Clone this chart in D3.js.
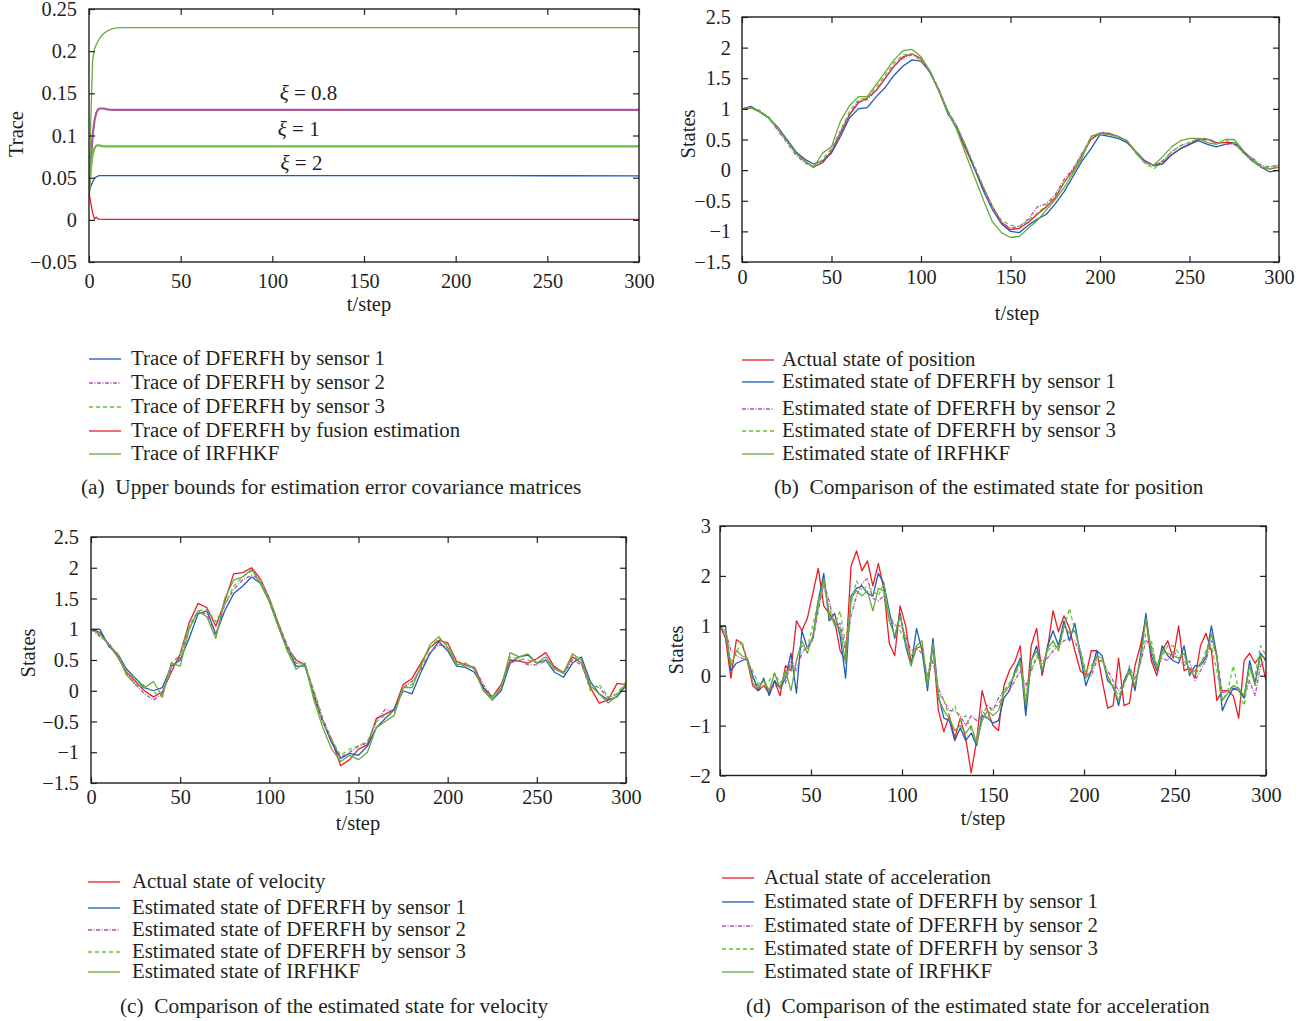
<!DOCTYPE html>
<html>
<head>
<meta charset="utf-8">
<script src="https://cdn.jsdelivr.net/npm/d3@7"></script>
<style>
  body { margin: 0; background: #fff; }
  svg text { font-family: "Liberation Serif", "DejaVu Serif", serif; font-size: 20px; fill: #231f20; }
</style>
</head>
<body>
<svg id="chart" width="1312" height="1021"></svg>
<script>
// ---- data ----
var stepTicks = [0, 50, 100, 150, 200, 250, 300];
var stepTickLabels = ["0", "50", "100", "150", "200", "250", "300"];

var traceTicks = [-0.05, 0, 0.05, 0.1, 0.15, 0.2, 0.25];
var traceTickLabels = ["\u22120.05", "0", "0.05", "0.1", "0.15", "0.2", "0.25"];
var stateTicks = [-1.5, -1, -0.5, 0, 0.5, 1, 1.5, 2, 2.5];
var stateTickLabels = ["\u22121.5", "\u22121", "\u22120.5", "0", "0.5", "1", "1.5", "2", "2.5"];
var accTicks = [-2, -1, 0, 1, 2, 3];
var accTickLabels = ["\u22122", "\u22121", "0", "1", "2", "3"];

// (a) traces
var traceSteps = [0, 1, 2, 3, 4, 5, 6, 8, 10, 12, 15, 20, 25, 30, 50, 100, 150, 200, 250, 300];
var traceSensor1 = [0.032, 0.040, 0.045, 0.049, 0.051, 0.052, 0.0525, 0.0525, 0.0525, 0.0525, 0.0525, 0.0525, 0.0525, 0.0525, 0.0525, 0.0525, 0.0525, 0.0525, 0.0523, 0.0522];
var traceSensor2 = [0.032, 0.070, 0.100, 0.118, 0.127, 0.131, 0.132, 0.132, 0.131, 0.1305, 0.1305, 0.1305, 0.1305, 0.1305, 0.1305, 0.1305, 0.1305, 0.1305, 0.1305, 0.1305];
var traceSensor3 = [0.032, 0.060, 0.078, 0.085, 0.088, 0.0885, 0.088, 0.087, 0.087, 0.087, 0.087, 0.087, 0.087, 0.087, 0.087, 0.087, 0.087, 0.087, 0.087, 0.087];
var traceFusion = [0.032, 0.020, 0.008, 0.001, 0.003, 0.001, 0.0008, 0.0005, 0.0005, 0.0005, 0.0005, 0.0005, 0.0005, 0.0005, 0.0005, 0.0005, 0.0005, 0.0005, 0.0005, 0.0005];
var traceIrfhkf = [0.032, 0.120, 0.190, 0.203, 0.208, 0.212, 0.216, 0.221, 0.224, 0.226, 0.2275, 0.228, 0.228, 0.228, 0.228, 0.228, 0.228, 0.228, 0.228, 0.228];
var xiLabels = ["0.8", "1", "2"];
var xiSteps = [104, 103, 104.5];
var xiValues = [0.1506, 0.108, 0.0676];

// (b) position, every 5 steps
var posSteps = [0, 5, 10, 15, 20, 25, 30, 35, 40, 45, 50, 55, 60, 65, 70, 75, 80, 85, 90, 95,
  100, 105, 110, 115, 120, 125, 130, 135, 140, 145, 150, 155, 160, 165, 170, 175, 180, 185, 190, 195,
  200, 205, 210, 215, 220, 225, 230, 235, 240, 245, 250, 255, 260, 265, 270, 275, 280, 285, 290, 295, 300];
var posActual = [1.0, 1.02, 0.95, 0.85, 0.68, 0.5, 0.3, 0.15, 0.05, 0.12,
  0.3, 0.6, 0.9, 1.1, 1.18, 1.3, 1.5, 1.7, 1.85, 1.9,
  1.82, 1.6, 1.3, 0.95, 0.68, 0.34, 0.02, -0.3, -0.6, -0.85,
  -0.97, -0.95, -0.85, -0.72, -0.6, -0.45, -0.2, 0.0, 0.25, 0.5,
  0.6, 0.6, 0.55, 0.48, 0.3, 0.15, 0.08, 0.12, 0.25, 0.35,
  0.42, 0.5, 0.5, 0.45, 0.45, 0.45, 0.3, 0.18, 0.05, 0.02,
  0.05];
var posSensor1 = [1.0, 1.04, 0.95, 0.85, 0.7, 0.5, 0.3, 0.18, 0.1, 0.15,
  0.28, 0.55, 0.85, 1.0, 1.02, 1.2, 1.35, 1.55, 1.7, 1.8,
  1.78, 1.6, 1.3, 0.92, 0.7, 0.38, 0.02, -0.35, -0.65, -0.88,
  -1.0, -1.02, -0.9, -0.8, -0.72, -0.55, -0.35, -0.1, 0.15, 0.35,
  0.58, 0.55, 0.52, 0.45, 0.3, 0.15, 0.07, 0.1, 0.25, 0.35,
  0.42, 0.48, 0.42, 0.38, 0.42, 0.45, 0.3, 0.15, 0.05, -0.03,
  0.0];
var posSensor2 = [1.0, 1.03, 0.97, 0.85, 0.65, 0.45, 0.25, 0.12, 0.06, 0.15,
  0.32, 0.62, 0.92, 1.12, 1.15, 1.3, 1.5, 1.7, 1.83, 1.88,
  1.8, 1.62, 1.32, 0.97, 0.72, 0.38, 0.04, -0.3, -0.62, -0.86,
  -0.95, -0.92, -0.8, -0.6, -0.55, -0.4, -0.15, 0.02, 0.28, 0.52,
  0.62, 0.6, 0.55, 0.47, 0.3, 0.15, 0.08, 0.15, 0.3, 0.4,
  0.45, 0.5, 0.52, 0.45, 0.42, 0.42, 0.3, 0.2, 0.08, 0.05,
  0.08];
var posSensor3 = [1.0, 1.02, 0.96, 0.87, 0.68, 0.48, 0.28, 0.16, 0.04, 0.18,
  0.35, 0.65, 0.95, 1.15, 1.18, 1.35, 1.55, 1.75, 1.88, 1.9,
  1.8, 1.62, 1.3, 0.97, 0.72, 0.4, 0.06, -0.28, -0.6, -0.82,
  -0.9, -0.92, -0.82, -0.7, -0.58, -0.42, -0.2, -0.02, 0.25, 0.55,
  0.6, 0.58, 0.55, 0.48, 0.3, 0.12, 0.02, 0.12, 0.3, 0.4,
  0.45, 0.52, 0.5, 0.42, 0.48, 0.45, 0.28, 0.15, 0.05, 0.05,
  0.1];
var posIrfhkf = [1.0, 1.02, 0.95, 0.85, 0.68, 0.48, 0.28, 0.15, 0.04, 0.28,
  0.38, 0.8, 1.05, 1.2, 1.2, 1.4, 1.6, 1.8, 1.95, 1.97,
  1.85, 1.62, 1.28, 0.95, 0.66, 0.26, -0.12, -0.5, -0.85, -1.02,
  -1.1, -1.08, -0.95, -0.82, -0.65, -0.48, -0.28, -0.05, 0.2, 0.55,
  0.6, 0.58, 0.55, 0.48, 0.28, 0.12, 0.08, 0.22, 0.38, 0.48,
  0.52, 0.52, 0.45, 0.42, 0.5, 0.5, 0.32, 0.18, 0.05, 0.02,
  0.05];

// (c) velocity, every 5 steps
var velSteps = posSteps;
var velActual = [1.0, 0.95, 0.75, 0.55, 0.3, 0.15, 0.0, -0.1, -0.02, 0.3,
  0.6, 1.1, 1.42, 1.35, 1.05, 1.45, 1.9, 1.92, 2.0, 1.82,
  1.5, 1.1, 0.7, 0.5, 0.42, -0.1, -0.5, -0.8, -1.22, -1.12,
  -0.95, -0.88, -0.45, -0.38, -0.3, 0.1, 0.2, 0.45, 0.7, 0.82,
  0.78, 0.48, 0.42, 0.38, 0.05, -0.1, 0.1, 0.5, 0.48, 0.45,
  0.52, 0.62, 0.38, 0.3, 0.55, 0.45, 0.05, -0.2, -0.15, 0.12,
  0.1];
var velSensor1 = [1.0, 1.0, 0.72, 0.6, 0.35, 0.2, 0.05, 0.0, 0.05, 0.4,
  0.5, 0.85, 1.25, 1.3, 0.92, 1.3, 1.58, 1.7, 1.85, 1.75,
  1.45, 1.05, 0.7, 0.4, 0.4, -0.05, -0.5, -0.85, -1.1, -1.02,
  -1.05, -0.9, -0.6, -0.45, -0.3, 0.0, -0.05, 0.3, 0.6, 0.8,
  0.65, 0.4, 0.38, 0.3, 0.05, -0.15, 0.0, 0.45, 0.55, 0.58,
  0.45, 0.5, 0.3, 0.22, 0.45, 0.55, 0.15, -0.05, -0.15, -0.1,
  0.08];
var velSensor2 = [1.0, 0.88, 0.78, 0.55, 0.28, 0.1, -0.05, -0.15, -0.05, 0.35,
  0.55, 1.0, 1.28, 1.25, 0.9, 1.4, 1.65, 1.8, 1.88, 1.8,
  1.5, 1.1, 0.75, 0.45, 0.42, 0.0, -0.45, -0.8, -1.08, -1.0,
  -0.9, -0.85, -0.5, -0.3, -0.35, 0.05, 0.15, 0.35, 0.62, 0.75,
  0.7, 0.45, 0.4, 0.38, 0.1, -0.1, 0.05, 0.45, 0.5, 0.42,
  0.42, 0.48, 0.4, 0.28, 0.5, 0.42, 0.1, 0.05, -0.12, -0.05,
  0.1];
var velSensor3 = [1.0, 0.9, 0.75, 0.6, 0.3, 0.2, 0.08, -0.02, -0.1, 0.45,
  0.58, 1.05, 1.3, 1.32, 1.12, 1.4, 1.7, 1.85, 1.95, 1.8,
  1.5, 1.1, 0.7, 0.45, 0.45, -0.05, -0.5, -0.8, -1.05, -0.95,
  -0.9, -0.82, -0.5, -0.4, -0.38, 0.05, 0.1, 0.4, 0.7, 0.85,
  0.75, 0.45, 0.42, 0.35, 0.0, -0.1, 0.05, 0.55, 0.52, 0.5,
  0.45, 0.48, 0.35, 0.3, 0.58, 0.45, 0.0, 0.1, -0.1, -0.05,
  0.15];
var velIrfhkf = [1.0, 0.92, 0.75, 0.58, 0.25, 0.1, 0.05, 0.15, -0.1, 0.45,
  0.4, 1.0, 1.3, 1.2, 0.85, 1.5, 1.8, 1.85, 1.97, 1.75,
  1.45, 1.05, 0.65, 0.35, 0.45, -0.15, -0.6, -0.95, -1.15, -1.05,
  -1.12, -1.0, -0.6, -0.5, -0.4, 0.05, 0.05, 0.4, 0.75, 0.88,
  0.7, 0.42, 0.45, 0.35, 0.0, -0.15, 0.05, 0.62, 0.55, 0.6,
  0.45, 0.55, 0.35, 0.28, 0.6, 0.5, 0.08, -0.05, -0.2, -0.08,
  0.12];

// (d) acceleration, every 3 steps
var accSteps = [0, 3, 6, 9, 12, 15, 18, 21, 24, 27,
  30, 33, 36, 39, 42, 45, 48, 51, 54, 57,
  60, 63, 66, 69, 72, 75, 78, 81, 84, 87,
  90, 93, 96, 99, 102, 105, 108, 111, 114, 117,
  120, 123, 126, 129, 132, 135, 138, 141, 144, 147,
  150, 153, 156, 159, 162, 165, 168, 171, 174, 177,
  180, 183, 186, 189, 192, 195, 198, 201, 204, 207,
  210, 213, 216, 219, 222, 225, 228, 231, 234, 237,
  240, 243, 246, 249, 252, 255, 258, 261, 264, 267,
  270, 273, 276, 279, 282, 285, 288, 291, 294, 297,
  300];
var accActual = [1.0, 0.75, -0.05, 0.72, 0.65, 0.3, -0.2, -0.3, -0.2, -0.35,
  -0.1, -0.4, 0.2, 0.1, 1.1, 0.9, 1.15, 1.65, 2.15, 1.4,
  1.25, 1.1, 0.5, 0.3, 2.2, 2.5, 2.1, 2.3, 1.8, 2.25,
  1.75, 0.65, 0.4, 1.4, 1.0, 0.25, 0.55, 0.6, -0.2, 0.6,
  -0.7, -1.12, -0.8, -1.25, -0.85, -1.25, -1.95, -1.3, -0.3, -0.7,
  -1.0, -1.1, -0.2, 0.1, 0.28, 0.6, -0.7, 0.6, 0.95, 0.0,
  0.55, 1.3, 0.88, 1.2, 0.95, 0.5, 0.1, 0.0, 0.5, 0.5,
  -0.1, -0.65, -0.6, 0.35, -0.6, -0.55, 0.2, 0.6, 1.15, 0.3,
  0.0, 0.5, 0.7, 0.35, 1.0, 0.1, 0.15, -0.05, 0.6, 0.85,
  0.5, -0.5, -0.3, -0.3, -0.4, -0.85, 0.3, 0.45, 0.25, 0.4,
  -0.1];
var accSensor1 = [1.0, 1.0, 0.1, 0.25, 0.3, 0.35, 0.0, -0.3, -0.05, -0.4,
  -0.1, -0.25, -0.05, 0.45, -0.35, 0.9, 0.55, 0.75, 1.5, 2.05,
  1.1, 1.25, 0.8, -0.05, 1.6, 1.75, 1.8, 1.65, 1.6, 2.05,
  1.85, 1.3, 0.75, 1.25, 0.6, 0.2, 0.95, 0.5, -0.3, 0.75,
  -0.4, -0.85, -0.9, -1.3, -1.05, -1.3, -1.15, -1.4, -0.8, -0.85,
  -0.95, -0.9, -0.45, -0.3, 0.1, 0.35, -0.8, 0.3, 0.6, 0.05,
  0.6, 0.9, 0.6, 1.1, 0.7, 1.05, 0.4, -0.2, 0.1, 0.5,
  0.4, -0.1, -0.2, -0.6, -0.1, 0.15, -0.3, 0.4, 1.25, 0.4,
  0.1, 0.6, 0.4, 0.3, 0.25, 0.6, 0.0, 0.2, 0.2, 0.35,
  1.0, 0.4, -0.7, -0.45, -0.25, -0.3, -0.45, 0.3, -0.15, 0.45,
  0.3];
var accSensor2 = [1.0, 0.9, 0.5, 0.4, 0.35, 0.3, -0.05, -0.2, -0.1, -0.3,
  -0.2, -0.2, -0.15, 0.3, 0.1, 0.45, 0.6, 0.7, 1.3, 1.85,
  1.5, 1.0, 1.05, 0.5, 1.2, 1.6, 1.85, 1.95, 1.55, 1.5,
  1.6, 1.15, 1.0, 1.0, 0.8, 0.5, 0.55, 0.45, 0.0, 0.3,
  -0.25, -0.5, -0.7, -0.7, -0.8, -1.0, -0.8, -0.9, -0.8, -0.6,
  -0.7, -0.45, -0.3, -0.3, -0.1, 0.1, -0.2, 0.1, 0.35, 0.3,
  0.35, 0.5, 0.6, 0.7, 0.75, 0.7, 0.4, 0.05, 0.0, 0.3,
  0.3, 0.1, -0.1, -0.3, -0.15, 0.05, -0.05, 0.25, 0.7, 0.6,
  0.2, 0.35, 0.3, 0.5, 0.35, 0.2, 0.3, -0.1, 0.1, 0.3,
  0.7, 0.4, -0.35, -0.3, -0.2, -0.3, -0.4, -0.1, -0.4, 0.2,
  0.35];
var accSensor3 = [1.0, 0.9, 0.3, 0.45, 0.7, 0.3, 0.1, -0.15, -0.2, -0.1,
  0.05, -0.15, 0.0, 0.2, 0.3, 0.6, 0.55, 1.0, 1.5, 1.8,
  1.35, 1.0, 1.3, 0.6, 1.45, 1.9, 1.7, 1.8, 1.7, 1.6,
  1.85, 1.2, 1.05, 0.9, 0.65, 0.4, 0.55, 0.6, -0.05, 0.55,
  -0.35, -0.5, -0.8, -0.6, -0.9, -0.8, -1.1, -1.3, -0.7, -0.85,
  -0.6, -0.6, -0.3, -0.15, 0.0, 0.25, -0.4, 0.15, 0.4, 0.2,
  0.5, 0.6, 0.55, 0.95, 1.35, 0.9, 0.5, 0.1, 0.2, 0.35,
  0.3, 0.0, -0.2, -0.4, -0.2, 0.2, -0.1, 0.3, 0.85, 0.7,
  0.15, 0.4, 0.6, 0.6, 0.45, 0.3, 0.1, 0.0, 0.2, 0.5,
  0.6, 0.1, -0.5, -0.3, 0.2, -0.3, -0.6, 0.1, 0.0, 0.6,
  0.4];
var accIrfhkf = [1.0, 0.85, 0.2, 0.5, 0.4, 0.35, -0.15, -0.25, -0.1, -0.3,
  0.05, -0.25, 0.1, -0.3, 0.3, 0.7, 0.45, 0.8, 1.4, 1.95,
  1.2, 1.05, 0.95, 0.25, 1.55, 1.7, 1.6, 1.7, 1.3, 1.75,
  1.7, 1.1, 0.8, 1.2, 0.7, 0.2, 0.6, 0.7, -0.2, 0.65,
  -0.45, -0.7, -0.85, -1.1, -1.0, -1.15, -1.0, -1.35, -0.9, -0.7,
  -0.8, -0.7, -0.35, -0.2, 0.05, 0.3, -0.6, 0.3, 0.5, 0.1,
  0.55, 0.7, 0.5, 1.0, 0.85, 0.9, 0.5, -0.05, 0.1, 0.4,
  0.35, 0.0, -0.25, -0.5, -0.15, 0.1, -0.2, 0.3, 1.15, 0.5,
  0.15, 0.5, 0.45, 0.4, 0.35, 0.45, 0.05, 0.1, 0.25, 0.4,
  0.85, 0.35, -0.5, -0.35, -0.2, -0.25, -0.4, 0.2, -0.2, 0.4,
  0.35];

// ---- line styles ----
var styles = {
  actual: {color: "#ed1c24", dash: null},
  s1:     {color: "#1d5cb6", dash: null},
  s2:     {color: "#b24db6", dash: "4,1.5,1,1.5"},
  s3:     {color: "#63c632", dash: "4,3"},
  irf:    {color: "#69a83b", dash: null}
};

var panels = [
  {
    id: "a", left: 89, right: 639, top: 9, bottom: 262,
    yDomain: [-0.05, 0.25], yTicks: traceTicks, yLabels: traceTickLabels,
    xPad: 12, yPad: 12, yTitle: "Trace", yTitlePos: [16, 134], xTitlePos: [369, 304],
    // the dense markers of sensors 2 and 3 read as thick solid lines in the plot
    series: [
      {steps: traceSteps, values: traceSensor1, style: "s1", label: "Trace of DFERFH by sensor 1"},
      {steps: traceSteps, values: traceSensor2, style: "s2", label: "Trace of DFERFH by sensor 2", plotColor: "#a9579f", plotWidth: 2.2, plotSolid: true},
      {steps: traceSteps, values: traceSensor3, style: "s3", label: "Trace of DFERFH by sensor 3", plotColor: "#6cbd45", plotWidth: 2.2, plotSolid: true},
      {steps: traceSteps, values: traceFusion, style: "actual", label: "Trace of DFERFH by fusion estimation"},
      {steps: traceSteps, values: traceIrfhkf, style: "irf", label: "Trace of IRFHKF"}
    ],
    legend: {x0: 89, x1: 121, tx: 131, rows: [358, 382, 406, 430, 453]},
    caption: {x: 81, y: 487, text: "(a)  Upper bounds for estimation error covariance matrices"}
  },
  {
    id: "b", left: 742, right: 1279, top: 17, bottom: 262,
    yDomain: [-1.5, 2.5], yTicks: stateTicks, yLabels: stateTickLabels,
    xPad: 8, yPad: 11, yTitle: "States", yTitlePos: [688, 134], xTitlePos: [1017, 313],
    series: [
      {steps: posSteps, values: posActual, style: "actual", label: "Actual state of position"},
      {steps: posSteps, values: posSensor1, style: "s1", label: "Estimated state of DFERFH by sensor 1"},
      {steps: posSteps, values: posSensor2, style: "s2", label: "Estimated state of DFERFH by sensor 2"},
      {steps: posSteps, values: posSensor3, style: "s3", label: "Estimated state of DFERFH by sensor 3"},
      {steps: posSteps, values: posIrfhkf, style: "irf", label: "Estimated state of IRFHKF"}
    ],
    legend: {x0: 742, x1: 774, tx: 782, rows: [359, 381, 408, 430, 453]},
    caption: {x: 774, y: 487, text: "(b)  Comparison of the estimated state for position"}
  },
  {
    id: "c", left: 91, right: 626, top: 537, bottom: 783,
    yDomain: [-1.5, 2.5], yTicks: stateTicks, yLabels: stateTickLabels,
    xPad: 7, yPad: 12, yTitle: "States", yTitlePos: [28, 653], xTitlePos: [358, 823],
    series: [
      {steps: velSteps, values: velActual, style: "actual", label: "Actual state of velocity"},
      {steps: velSteps, values: velSensor1, style: "s1", label: "Estimated state of DFERFH by sensor 1"},
      {steps: velSteps, values: velSensor2, style: "s2", label: "Estimated state of DFERFH by sensor 2"},
      {steps: velSteps, values: velSensor3, style: "s3", label: "Estimated state of DFERFH by sensor 3"},
      {steps: velSteps, values: velIrfhkf, style: "irf", label: "Estimated state of IRFHKF"}
    ],
    legend: {x0: 88, x1: 120, tx: 132, rows: [881, 907, 929, 951, 971]},
    caption: {x: 120, y: 1006, text: "(c)  Comparison of the estimated state for velocity"}
  },
  {
    id: "d", left: 720, right: 1266, top: 526, bottom: 775.5,
    yDomain: [-2, 3], yTicks: accTicks, yLabels: accTickLabels,
    xPad: 12, yPad: 9, yTitle: "States", yTitlePos: [676, 650], xTitlePos: [983, 818],
    series: [
      {steps: accSteps, values: accActual, style: "actual", label: "Actual state of acceleration"},
      {steps: accSteps, values: accSensor1, style: "s1", label: "Estimated state of DFERFH by sensor 1"},
      {steps: accSteps, values: accSensor2, style: "s2", label: "Estimated state of DFERFH by sensor 2"},
      {steps: accSteps, values: accSensor3, style: "s3", label: "Estimated state of DFERFH by sensor 3"},
      {steps: accSteps, values: accIrfhkf, style: "irf", label: "Estimated state of IRFHKF"}
    ],
    legend: {x0: 722, x1: 754, tx: 764, rows: [877, 901, 925, 948, 971]},
    caption: {x: 746, y: 1006, text: "(d)  Comparison of the estimated state for acceleration"}
  }
];

var svg = d3.select("#chart");
var ink = "#231f20";

function drawPanel(p) {
  var x = d3.scaleLinear().domain([0, 300]).range([p.left, p.right]);
  var y = d3.scaleLinear().domain(p.yDomain).range([p.bottom, p.top]);
  var g = svg.append("g").attr("class", "panel-" + p.id);

  g.append("clipPath").attr("id", "clip-" + p.id)
    .append("rect")
    .attr("x", p.left).attr("y", p.top)
    .attr("width", p.right - p.left).attr("height", p.bottom - p.top);

  var plot = g.append("g").attr("clip-path", "url(#clip-" + p.id + ")");

  p.series.forEach(function(s) {
    var line = d3.line()
      .x(function(d, i) { return x(s.steps[i]); })
      .y(function(d) { return y(d); });
    plot.append("path")
      .datum(s.values)
      .attr("d", line)
      .attr("fill", "none")
      .attr("stroke", s.plotColor || styles[s.style].color)
      .attr("stroke-width", s.plotWidth || 1.3)
      .attr("stroke-linejoin", "round")
      .attr("stroke-dasharray", s.plotSolid ? null : styles[s.style].dash);
  });

  // inward ticks on all four sides
  var fmtX = function(d, i) { return stepTickLabels[i]; };
  var fmtY = function(d, i) { return p.yLabels[i]; };
  var axes = [
    {axis: d3.axisBottom(x).tickValues(stepTicks).tickFormat(fmtX).tickPadding(p.xPad), at: "translate(0," + p.bottom + ")"},
    {axis: d3.axisTop(x).tickValues(stepTicks).tickFormat(""), at: "translate(0," + p.top + ")"},
    {axis: d3.axisLeft(y).tickValues(p.yTicks).tickFormat(fmtY).tickPadding(p.yPad), at: "translate(" + p.left + ",0)"},
    {axis: d3.axisRight(y).tickValues(p.yTicks).tickFormat(""), at: "translate(" + p.right + ",0)"}
  ];
  axes.forEach(function(a) {
    var ag = g.append("g")
      .attr("transform", a.at)
      .call(a.axis.tickSize(-6));
    ag.select(".domain").remove();
    ag.selectAll(".tick line").attr("stroke", ink).attr("stroke-width", 1.2);
    ag.selectAll(".tick text")
      .attr("fill", ink)
      .style("font-family", "'Liberation Serif', serif")
      .style("font-size", "20.3px");
  });

  g.append("rect")
    .attr("x", p.left).attr("y", p.top)
    .attr("width", p.right - p.left).attr("height", p.bottom - p.top)
    .attr("fill", "none").attr("stroke", ink).attr("stroke-width", 1.4);

  g.append("text")
    .attr("x", p.xTitlePos[0]).attr("y", p.xTitlePos[1])
    .attr("dy", "0.35em").attr("text-anchor", "middle")
    .style("font-size", "20.5px")
    .text("t/step");

  g.append("text")
    .attr("transform", "translate(" + p.yTitlePos[0] + "," + p.yTitlePos[1] + ") rotate(-90)")
    .attr("dy", "0.35em").attr("text-anchor", "middle")
    .style("font-size", "20.5px")
    .text(p.yTitle);

  // legend below the plot
  var lg = g.append("g").attr("class", "legend");
  p.series.forEach(function(s, i) {
    var ry = p.legend.rows[i];
    lg.append("line")
      .attr("x1", p.legend.x0).attr("x2", p.legend.x1)
      .attr("y1", ry + 1).attr("y2", ry + 1)
      .attr("stroke", styles[s.style].color)
      .attr("stroke-width", 1.3)
      .attr("stroke-dasharray", styles[s.style].dash);
    lg.append("text")
      .attr("x", p.legend.tx).attr("y", ry)
      .attr("dy", "0.35em")
      .style("font-size", "20.8px")
      .text(s.label);
  });

  g.append("text")
    .attr("x", p.caption.x).attr("y", p.caption.y)
    .attr("dy", "0.35em")
    .style("white-space", "pre")
    .style("font-size", "21.3px")
    .text(p.caption.text);

  return {x: x, y: y, g: g};
}

var drawn = panels.map(drawPanel);

// xi annotations on panel (a)
var pa = drawn[0];
xiLabels.forEach(function(lbl, i) {
  var t = pa.g.append("text")
    .attr("x", pa.x(xiSteps[i]))
    .attr("y", pa.y(xiValues[i]))
    .attr("dy", "0.35em")
    .style("white-space", "pre")
    .style("font-size", "21px");
  t.append("tspan").style("font-style", "italic").text("\u03be");
  t.append("tspan").text(" = " + lbl);
});
</script>
</body>
</html>
